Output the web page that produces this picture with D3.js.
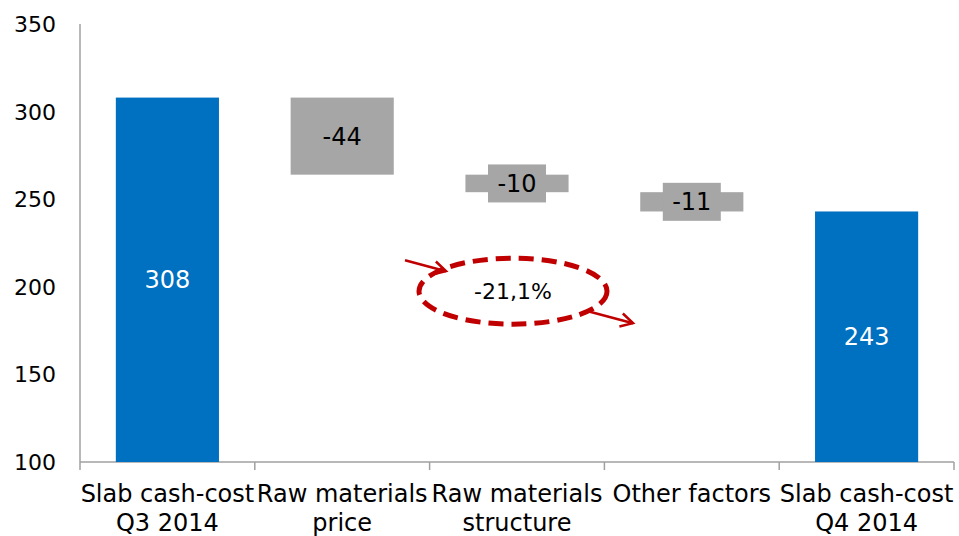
<!DOCTYPE html>
<html>
<head>
<meta charset="utf-8">
<script src="https://cdn.jsdelivr.net/npm/d3@7"></script>
<style>
  html, body { margin: 0; padding: 0; background: #fff; }
  svg { display: block; font-family: "DejaVu Sans", Verdana, sans-serif; }
</style>
</head>
<body>
<svg id="chart" width="959" height="536"></svg>
<script>
// Slab cash-cost bridge, Q3 2014 -> Q4 2014
const categories = [
  ["Slab cash-cost", "Q3 2014"],
  ["Raw materials", "price"],
  ["Raw materials", "structure"],
  ["Other factors"],
  ["Slab cash-cost", "Q4 2014"]
];
const values = [308, -44, -10, -11, 243];
const kinds = ["total", "delta", "delta", "delta", "total"];
const yTicks = [100, 150, 200, 250, 300, 350];
const changeLabel = "-21,1%";

const svg = d3.select("#chart");
const blue = "#0070c0", grey = "#a6a6a6", axisGrey = "#a0a0a0", red = "#c00000";

const y = d3.scaleLinear().domain([100, 350]).range([462, 24]);
const x = d3.scaleBand()
  .domain(d3.range(categories.length))
  .range([80, 954])
  .paddingInner(0.41)
  .paddingOuter(0.205);

// waterfall segments
let running = 0;
const bars = values.map((v, i) => {
  let lo, hi;
  if (kinds[i] === "total") { lo = 100; hi = v; running = v; }
  else { const start = running; running = start + v; lo = Math.min(start, running); hi = Math.max(start, running); }
  return { i, v, lo, hi, kind: kinds[i] };
});

// axes
svg.append("line").attr("x1", 80).attr("x2", 80).attr("y1", y(350)).attr("y2", y(100))
  .attr("stroke", axisGrey).attr("stroke-width", 1.5);
svg.append("line").attr("x1", 80).attr("x2", 954).attr("y1", y(100)).attr("y2", y(100))
  .attr("stroke", axisGrey).attr("stroke-width", 1.5);
d3.range(categories.length + 1).forEach(k => {
  const tx = 80 + k * (874 / categories.length);
  svg.append("line").attr("x1", tx).attr("x2", tx).attr("y1", y(100)).attr("y2", y(100) + 8)
    .attr("stroke", axisGrey).attr("stroke-width", 1.5);
});

svg.append("g").selectAll("text").data(yTicks).join("text")
  .attr("x", 56).attr("y", d => y(d)).attr("dy", "0.36em")
  .attr("text-anchor", "end").attr("font-size", 22).attr("fill", "#000")
  .text(d => d);

// category labels
const catG = svg.append("g");
categories.forEach((lines, i) => {
  const t = catG.append("text").attr("text-anchor", "middle").attr("font-size", 24).attr("fill", "#000");
  lines.forEach((ln, j) => {
    t.append("tspan").attr("x", x(i) + x.bandwidth() / 2).attr("y", 502 + j * 29).text(ln);
  });
});

// bars
svg.append("g").selectAll("rect").data(bars).join("rect")
  .attr("x", d => x(d.i)).attr("width", x.bandwidth())
  .attr("y", d => y(d.hi)).attr("height", d => y(d.lo) - y(d.hi))
  .attr("fill", d => d.kind === "total" ? blue : grey);

// value label backgrounds for change bars
const lblW = 58, lblH = 38;
svg.append("g").selectAll("rect").data(bars.filter(d => d.kind === "delta")).join("rect")
  .attr("x", d => x(d.i) + x.bandwidth() / 2 - lblW / 2)
  .attr("y", d => (y(d.lo) + y(d.hi)) / 2 - lblH / 2)
  .attr("width", lblW).attr("height", lblH).attr("fill", grey);

svg.append("g").selectAll("text").data(bars).join("text")
  .attr("x", d => x(d.i) + x.bandwidth() / 2)
  .attr("y", d => d.kind === "total" ? y((d.lo + d.hi) / 2) : (y(d.lo) + y(d.hi)) / 2)
  .attr("dy", "0.36em").attr("text-anchor", "middle").attr("font-size", 24)
  .attr("fill", d => d.kind === "total" ? "#fff" : "#000")
  .text(d => d.v);

// percentage change annotation
const cx = x(2) + x.bandwidth() / 2 - 4, cy = y(197.5);
svg.append("ellipse").attr("cx", cx).attr("cy", cy).attr("rx", 94).attr("ry", 33)
  .attr("fill", "none").attr("stroke", red).attr("stroke-width", 5)
  .attr("stroke-dasharray", "15 8");
svg.append("text").attr("x", cx).attr("y", cy).attr("dy", "0.36em")
  .attr("text-anchor", "middle").attr("font-size", 22).attr("fill", "#000").text(changeLabel);

function arrow(xa, ya, xb, yb) {
  svg.append("line").attr("x1", xa).attr("y1", ya).attr("x2", xb).attr("y2", yb)
    .attr("stroke", red).attr("stroke-width", 2.5);
  const ang = Math.atan2(yb - ya, xb - xa), len = 14, spread = 0.5;
  const p1 = [xb - len * Math.cos(ang - spread), yb - len * Math.sin(ang - spread)];
  const p2 = [xb - len * Math.cos(ang + spread), yb - len * Math.sin(ang + spread)];
  svg.append("polyline").attr("points", [p1, [xb, yb], p2].map(p => p.join(",")).join(" "))
    .attr("fill", "none").attr("stroke", red).attr("stroke-width", 2.5);
}
arrow(cx - 108, cy - 31, cx - 67, cy - 20);
arrow(cx + 75, cy + 20, cx + 120, cy + 32);
</script>
</body>
</html>
